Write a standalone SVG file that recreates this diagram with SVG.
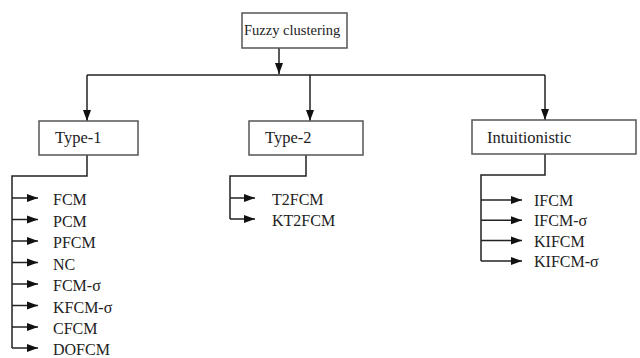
<svg xmlns="http://www.w3.org/2000/svg" width="640" height="358" viewBox="0 0 640 358">
<defs>
<marker id="ah" markerUnits="userSpaceOnUse" markerWidth="11" markerHeight="11" viewBox="0 0 11 11" refX="11" refY="5.5" orient="auto">
<path d="M0,1.5 L11,5.5 L0,9.5 Z" fill="#111"/>
</marker>
</defs>
<style>
.box{fill:#fff;stroke:#555;stroke-width:1.5}
.ln{fill:none;stroke:#222;stroke-width:1.5}
.ar{fill:none;stroke:#222;stroke-width:1.5;marker-end:url(#ah)}
text{font-family:"Liberation Serif","Times New Roman",serif;fill:#222}
.t{font-size:16.5px}
.it{font-size:16px}
</style>
<rect width="640" height="358" fill="#fff"/>
<g id="connectors">
<line class="ar" x1="279" y1="48" x2="279" y2="74"/>
<line class="ln" x1="87" y1="75" x2="545" y2="75"/>
<line class="ar" x1="87" y1="75" x2="87" y2="121"/>
<line class="ar" x1="310" y1="75" x2="310" y2="121"/>
<line class="ar" x1="545" y1="75" x2="545" y2="120"/>
<polyline class="ln" points="87,155 87,176 12,176 12,348"/>
<line class="ar" x1="12" y1="198" x2="38" y2="198"/>
<line class="ar" x1="12" y1="219.5" x2="38" y2="219.5"/>
<line class="ar" x1="12" y1="241" x2="38" y2="241"/>
<line class="ar" x1="12" y1="262.5" x2="38" y2="262.5"/>
<line class="ar" x1="12" y1="284" x2="38" y2="284"/>
<line class="ar" x1="12" y1="305.5" x2="38" y2="305.5"/>
<line class="ar" x1="12" y1="327" x2="38" y2="327"/>
<line class="ar" x1="12" y1="348" x2="38" y2="348"/>
<polyline class="ln" points="306,155 306,176 230,176 230,219"/>
<line class="ar" x1="230" y1="198" x2="255" y2="198"/>
<line class="ar" x1="230" y1="219" x2="255" y2="219"/>
<polyline class="ln" points="545,154 545,175 481,175 481,261"/>
<line class="ar" x1="481" y1="200" x2="522" y2="200"/>
<line class="ar" x1="481" y1="220.3" x2="522" y2="220.3"/>
<line class="ar" x1="481" y1="240.6" x2="522" y2="240.6"/>
<line class="ar" x1="481" y1="261" x2="522" y2="261"/>
</g>
<g id="fuzzy">
<rect class="box" x="242" y="13" width="105" height="35"/>
<text x="244" y="35" style="font-size:14.5px">Fuzzy clustering</text>
</g>
<g id="type1">
<rect class="box" x="39" y="121" width="99" height="34"/>
<text class="t" x="55" y="143">Type-1</text>
</g>
<g id="type2">
<rect class="box" x="249" y="121" width="114" height="34"/>
<text class="t" x="265" y="143">Type-2</text>
</g>
<g id="intuitionistic">
<rect class="box" x="472" y="120" width="164" height="34"/>
<text class="t" x="487" y="143">Intuitionistic</text>
</g>
<g id="type1-items">
<text class="it" x="53" y="205">FCM</text>
<text class="it" x="53" y="226.5">PCM</text>
<text class="it" x="53" y="248">PFCM</text>
<text class="it" x="53" y="269.5">NC</text>
<text class="it" x="53" y="291">FCM-σ</text>
<text class="it" x="53" y="312.5">KFCM-σ</text>
<text class="it" x="53" y="334">CFCM</text>
<text class="it" x="53" y="355">DOFCM</text>
</g>
<g id="type2-items">
<text class="it" x="272" y="205">T2FCM</text>
<text class="it" x="272" y="226">KT2FCM</text>
</g>
<g id="intuitionistic-items">
<text class="it" x="534" y="206">IFCM</text>
<text class="it" x="534" y="226.3">IFCM-σ</text>
<text class="it" x="534" y="246.6">KIFCM</text>
<text class="it" x="534" y="267">KIFCM-σ</text>
</g>
</svg>
